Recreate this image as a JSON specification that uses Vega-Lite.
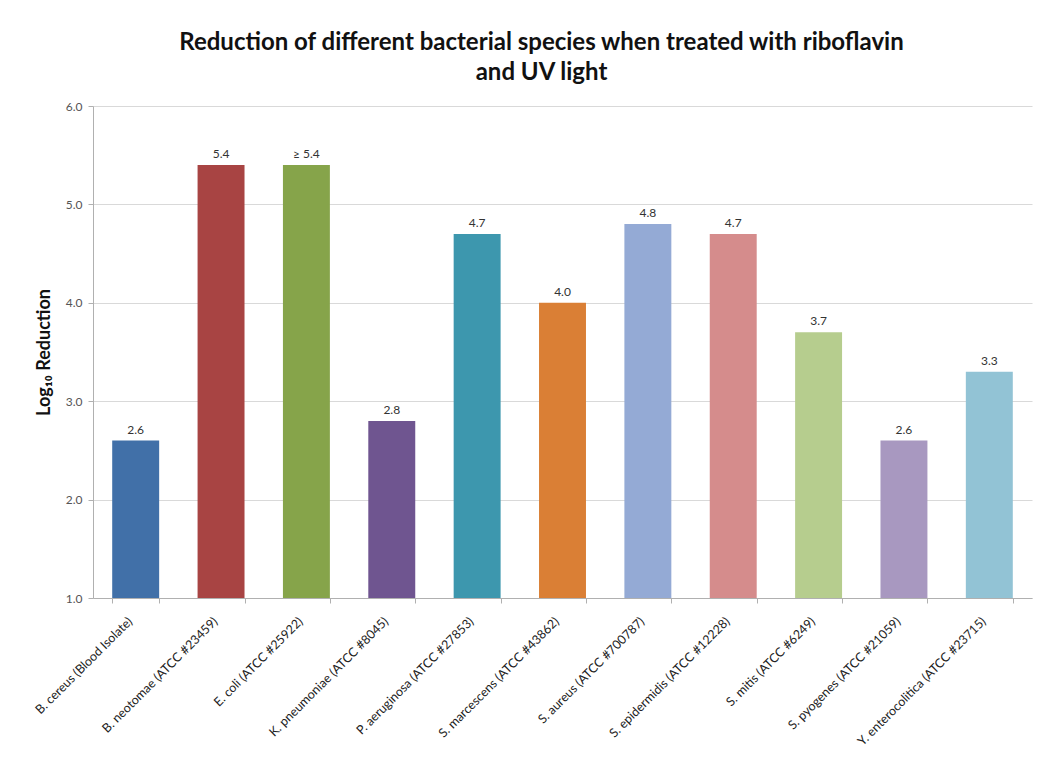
{
  "$schema": "https://vega.github.io/schema/vega-lite/v6.json",
  "autosize": {"type": "none"},
  "padding": {"left": 93, "top": 106, "right": 11, "bottom": 166},
  "width": 939,
  "height": 492,
  "background": "white",
  "config": {"view": {"stroke": null}, "font": "Lato"},
  "title": {
    "text": ["Reduction of different bacterial species when treated with riboflavin", "and UV light"],
    "fontSize": 24,
    "fontWeight": "bold",
    "font": "Lato",
    "color": "#111111",
    "lineHeight": 30,
    "offset": 15,
    "dx": -21,
    "anchor": "middle"
  },
  "data": {
    "values": [
      {"species": "B. cereus (Blood Isolate)", "value": 2.6, "label": "2.6", "color": "#4170A8"},
      {"species": "B. neotomae (ATCC #23459)", "value": 5.4, "label": "5.4", "color": "#A84443"},
      {"species": "E. coli (ATCC #25922)", "value": 5.4, "label": "≥ 5.4", "color": "#86A44A"},
      {"species": "K. pneumoniae (ATCC #8045)", "value": 2.8, "label": "2.8", "color": "#6F5590"},
      {"species": "P. aeruginosa (ATCC #27853)", "value": 4.7, "label": "4.7", "color": "#3D97AE"},
      {"species": "S. marcescens (ATCC #43862)", "value": 4.0, "label": "4.0", "color": "#DA7F35"},
      {"species": "S. aureus (ATCC #700787)", "value": 4.8, "label": "4.8", "color": "#94AAD5"},
      {"species": "S. epidermidis (ATCC #12228)", "value": 4.7, "label": "4.7", "color": "#D58C8C"},
      {"species": "S. mitis (ATCC #6249)", "value": 3.7, "label": "3.7", "color": "#B6CD8E"},
      {"species": "S. pyogenes (ATCC #21059)", "value": 2.6, "label": "2.6", "color": "#A898C0"},
      {"species": "Y. enterocolitica (ATCC #23715)", "value": 3.3, "label": "3.3", "color": "#92C3D5"}
    ]
  },
  "encoding": {
    "x": {
      "field": "species",
      "type": "nominal",
      "sort": null,
      "scale": {"paddingInner": 0.45, "paddingOuter": 0.225},
      "axis": {
        "title": null,
        "labelAngle": -45,
        "labelAlign": "right",
        "labelBaseline": "middle",
        "labelFontSize": 12.5,
        "labelColor": "#222222",
        "labelPadding": 16,
        "labelOffset": -6,
        "labelLimit": 260,
        "tickBand": "extent",
        "tickColor": "#b0b0b0",
        "tickSize": 5,
        "domainColor": "#b0b0b0",
        "grid": false
      }
    },
    "y": {
      "field": "value",
      "type": "quantitative",
      "scale": {"domain": [1, 6], "nice": false, "zero": false},
      "axis": {
        "title": "Log₁₀ Reduction",
        "titleFontSize": 18,
        "titleFontWeight": "bold",
        "titleColor": "#111111",
        "titlePadding": 12,
        "format": ".1f",
        "values": [1, 2, 3, 4, 5, 6],
        "labelFontSize": 12,
        "labelColor": "#555555",
        "labelPadding": 6,
        "tickColor": "#b0b0b0",
        "tickSize": 5,
        "domainColor": "#b0b0b0",
        "gridColor": "#d9d9d9"
      }
    }
  },
  "layer": [
    {
      "mark": {"type": "bar", "clip": true},
      "encoding": {
        "y2": {"datum": 1},
        "color": {"field": "color", "type": "nominal", "scale": null}
      }
    },
    {
      "mark": {"type": "text", "dy": -11, "fontSize": 12, "color": "#333333", "font": "Lato"},
      "encoding": {"text": {"field": "label"}}
    }
  ]
}
